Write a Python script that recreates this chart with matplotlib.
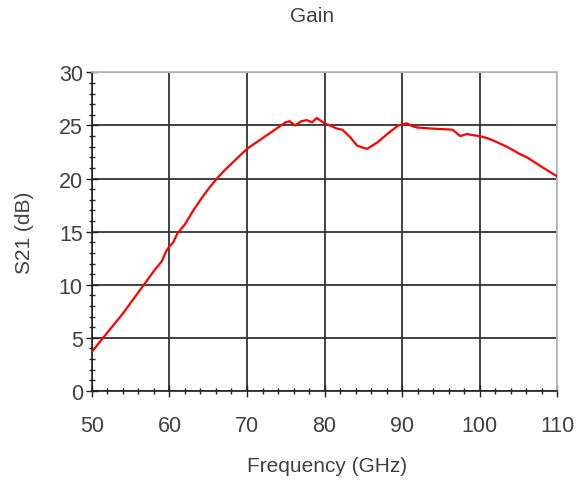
import matplotlib
matplotlib.use("Agg")
import matplotlib.pyplot as plt
from matplotlib.ticker import MultipleLocator

plt.rcParams['font.family'] = ['Liberation Sans', 'DejaVu Sans']

freq = [50, 51, 52, 53, 54, 55, 56, 57, 58, 59, 59.6, 60, 60.5, 61, 62, 63, 64, 65,
        66, 67, 68, 69, 70, 71, 72, 73, 74, 75, 75.5, 76.2, 77, 77.7, 78.4, 79, 80,
        81, 81.6, 82.3, 83.3, 84.2, 85, 85.5, 86.8, 88.1, 89.5, 90.6, 91.4, 92, 94,
        96.5, 97.5, 98.4, 99, 100, 101, 101.7, 103.5, 105.2, 106.1, 107.8, 110]
s21 = [3.7, 4.6, 5.5, 6.4, 7.3, 8.3, 9.3, 10.3, 11.3, 12.2, 13.2, 13.6, 14.0, 14.8,
       15.7, 16.9, 18.0, 19.0, 19.9, 20.7, 21.4, 22.1, 22.8, 23.3, 23.8, 24.3, 24.8,
       25.3, 25.4, 25.0, 25.4, 25.5, 25.3, 25.7, 25.2, 24.9, 24.7, 24.6, 23.9, 23.1,
       22.9, 22.8, 23.4, 24.2, 25.0, 25.2, 24.9, 24.8, 24.7, 24.6, 24.0, 24.2, 24.1,
       24.0, 23.8, 23.6, 23.0, 22.3, 22.0, 21.2, 20.2]

title = "Gain"
xlabel = "Frequency (GHz)"
ylabel = "S21 (dB)"

txt = '#404040'
fig = plt.figure(figsize=(5.78, 4.85), dpi=100)
ax = fig.add_axes([0.159, 0.1918, 0.805, 0.657])
ax.plot(freq, s21, color='#ff0000', lw=1.6, zorder=3)
ax.set_xlim(50, 110)
ax.set_ylim(0, 30)
ax.xaxis.set_major_locator(MultipleLocator(10))
ax.xaxis.set_minor_locator(MultipleLocator(2))
ax.yaxis.set_major_locator(MultipleLocator(5))
ax.yaxis.set_minor_locator(MultipleLocator(1))
ax.grid(True, which='major', color='#333333', lw=1.3)
ax.tick_params(which='major', direction='inout', length=9, width=1, colors='#222222',
               labelcolor=txt, labelsize=15.5)
ax.tick_params(axis='x', which='major', pad=13)
ax.tick_params(axis='y', which='major', pad=2)
ax.tick_params(which='minor', direction='inout', length=5, width=1, colors='#222222')
for s in ['top', 'right']:
    ax.spines[s].set_color('#bbbbbb')
    ax.spines[s].set_linewidth(1.3)
for s in ['left', 'bottom']:
    ax.spines[s].set_color('#222222')
    ax.spines[s].set_linewidth(1.2)
fig.text(327 / 578, 1 - 467 / 485, xlabel, ha='center', va='center', fontsize=15, color=txt)
fig.text(25 / 578, 1 - 233 / 485, ylabel, ha='center', va='center', rotation=90,
         fontsize=15, color=txt)
fig.text(312 / 578, 1 - 17 / 485, title, ha='center', va='center', fontsize=15, color=txt)
fig.savefig('out.png', dpi=100)
